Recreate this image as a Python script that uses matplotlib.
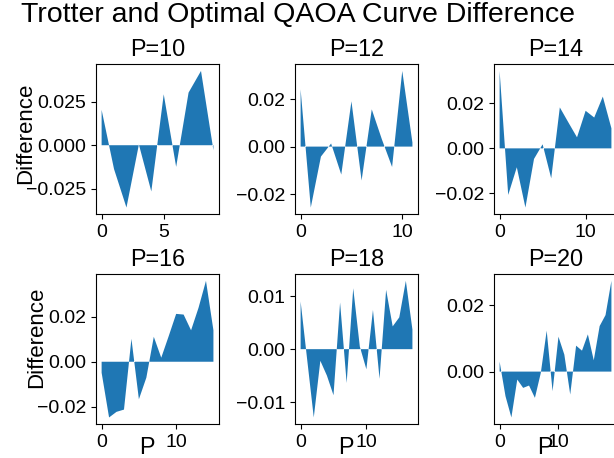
import numpy as np
import matplotlib
matplotlib.use("Agg")
import matplotlib.pyplot as plt
from matplotlib.ticker import MultipleLocator

plt.rcParams['font.family'] = ['Liberation Sans', 'DejaVu Sans']
plt.rcParams['font.size'] = 14

# difference between Trotter and optimal QAOA curves
p_values = [10, 12, 14, 16, 18, 20]

diff_p10 = [0.0204, -0.0138, -0.0360, 0.0004, -0.0267, 0.0294, -0.0125, 0.0304,
            0.0429, -0.0029]
diff_p12 = [0.0241, -0.0257, -0.0042, 0.0013, -0.0118, 0.0191, -0.0143, 0.0157,
            0.0030, -0.0086, 0.0319, 0.0017]
diff_p14 = [0.0344, -0.0207, -0.0084, -0.0263, -0.0047, 0.0018, -0.0133, 0.0182,
            0.0115, 0.0049, 0.0167, 0.0137, 0.0230, 0.0089]
diff_p16 = [-0.0049, -0.0248, -0.0223, -0.0213, 0.0102, -0.0167, -0.0071, 0.0111,
            0.0018, 0.0114, 0.0213, 0.0210, 0.0140, 0.0240, 0.0360, 0.0140]
diff_p18 = [0.0090, -0.0020, -0.0129, -0.0022, -0.0050, -0.0087, 0.0088, -0.0064,
            0.0115, 0.0005, -0.0038, 0.0074, -0.0056, 0.0112, 0.0043, 0.0060,
            0.0129, 0.0037]
diff_p20 = [0.0030, -0.0074, -0.0138, -0.0024, -0.0049, -0.0042, -0.0079, -0.0004,
            0.0123, -0.0059, 0.0105, 0.0051, -0.0069, 0.0078, 0.0063, 0.0112,
            0.0034, 0.0137, 0.0170, 0.0273]

diffs = [diff_p10, diff_p12, diff_p14, diff_p16, diff_p18, diff_p20]
ytick_steps = [0.025, 0.02, 0.02, 0.02, 0.01, 0.02]

fig, axes = plt.subplots(2, 3, figsize=(6.14, 4.58), dpi=100)
plt.subplots_adjust(left=0.1564, right=1.0049, bottom=0.0736, top=0.860,
                    wspace=0.618, hspace=0.397)

for n, ax in enumerate(axes.flat):
    d = np.array(diffs[n])
    x = np.arange(len(d))
    ax.fill_between(x, d)
    ax.yaxis.set_major_locator(MultipleLocator(ytick_steps[n]))
    ax.set_title("P=%d" % p_values[n], fontsize=16.8)
    if n % 3 == 0:
        ax.set_ylabel("Difference", fontsize=16)
    if n >= 3:
        ax.set_xlabel("P", fontsize=16.8)
        ax.xaxis.set_label_coords(0.41, -0.08)

axes[0, 0].yaxis.set_label_coords(-0.49, 0.54)
axes[1, 0].yaxis.set_label_coords(-0.40, 0.58)

fig.suptitle("Trotter and Optimal QAOA Curve Difference", fontsize=20.5,
             x=0.486, y=0.995)

plt.savefig("out.png", dpi=100)
